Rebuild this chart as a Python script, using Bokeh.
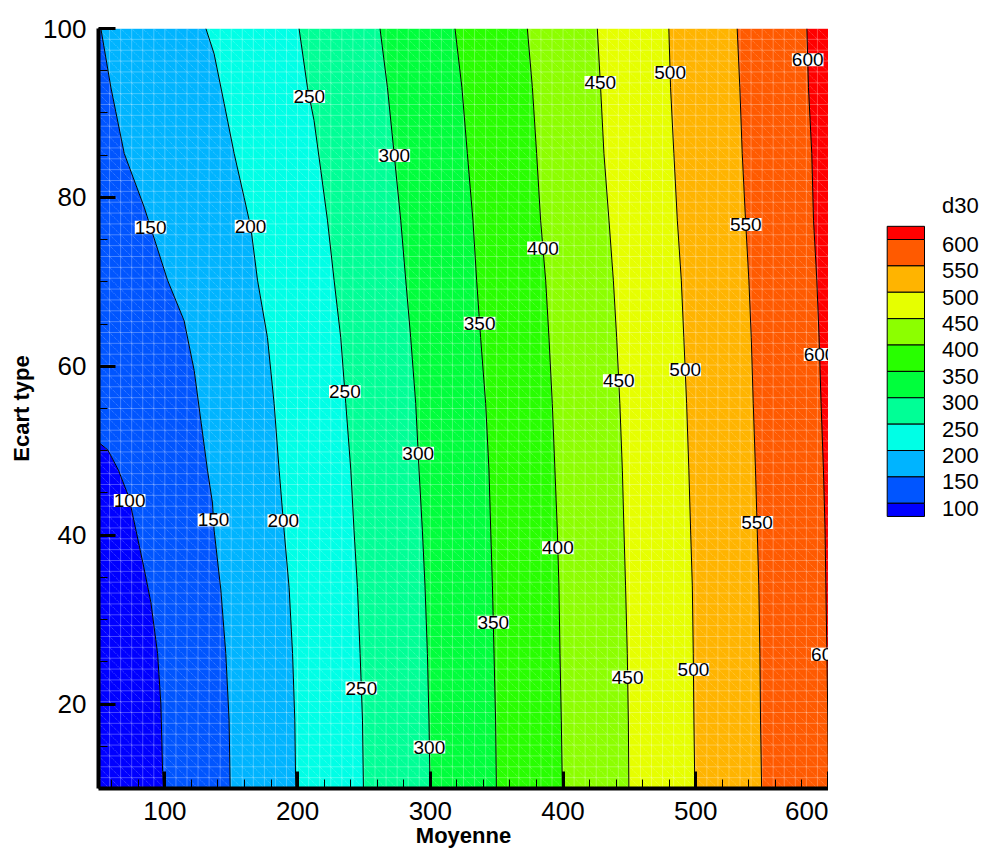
import numpy as np
from bokeh.plotting import figure
from bokeh.models import Range1d, SingleIntervalTicker
from bokeh.layouts import row
from bokeh.embed import file_html
from bokeh.resources import INLINE
from bokeh.core.properties import value

# ---------------- data ----------------
levels = [100, 150, 200, 250, 300, 350, 400, 450, 500, 550, 600]
band_colors = ["#0000FF", "#0055FF", "#00B4FF", "#00FFE6", "#00FF96", "#00FF3C",
               "#28FF00", "#8CFF00", "#E6FF00", "#FFB400", "#FF5A00", "#FF0000"]

# contour lines: Moyenne (x) at given Ecart type (y)
c100_y = [10, 12, 20, 26, 32, 36, 40.6, 44.5, 47.7, 50.1, 51]
c100_x = [99.0, 98.3, 97.0, 94.5, 89.5, 84.4, 78.2, 72.9, 65.0, 57.0, 50.0]
c150_y = [10, 18.1, 26, 33.5, 40.6, 43.8, 47.7, 53.6, 59.5, 65.4, 70.2, 78.85, 85.2, 93.05, 100]
c150_x = [149.2, 148.4, 145.9, 142.2, 137.1, 135.9, 132.1, 127.1, 122.1, 114.5, 102.0, 84.4, 69.4, 59.3, 51.8]
c200_y = [10, 18.1, 26, 33.8, 40.6, 47.7, 55.6, 63.4, 70.2, 76.4, 80, 85.2, 91.1, 97, 100]
c200_x = [198.6, 197.9, 196.2, 193.6, 189.8, 186.1, 182.3, 177.3, 169.8, 164.8, 159.7, 152.2, 144.7, 137.1, 130.9]
c250_y = [10, 18.1, 26, 33.8, 40.6, 47.7, 55.6, 63.4, 70.2, 77.3, 83.2, 89.1, 93.05, 100]
c250_x = [249.6, 248.9, 247.1, 245.1, 242.5, 240.1, 236.3, 232.5, 227.5, 222.5, 217.5, 212.4, 207.4, 201.1]
grid_y = [10, 18, 26, 34, 40.6, 47.7, 55.6, 63.4, 70.2, 77.3, 85.2, 93, 100]
c300_x = [299.8, 299.0, 297.8, 296.0, 294.0, 291.5, 289.0, 285.2, 281.5, 277.7, 272.7, 267.7, 262.1]
c350_x = [349.8, 349.2, 348.0, 346.8, 345.5, 344.2, 341.7, 337.9, 334.9, 332.1, 327.9, 323.8, 318.6]
c400_x = [399.5, 398.7, 397.7, 396.9, 395.7, 393.9, 391.9, 389.4, 386.9, 383.1, 380.1, 376.9, 373.1]
c450_x = [449.6, 449.2, 448.4, 447.1, 445.9, 444.7, 442.8, 440.4, 437.9, 434.6, 430.8, 428.3, 425.8]
c500_x = [499.3, 498.6, 498.1, 497.4, 496.1, 494.8, 493.1, 491.0, 489.1, 486.1, 483.5, 481.0, 479.7]
c550_x = [549.6, 548.8, 548.3, 547.5, 546.3, 545.0, 543.3, 541.8, 540.0, 537.5, 535.0, 533.2, 531.2]
c600_x = [600.0, 599.5, 598.8, 598.0, 597.4, 596.2, 594.4, 592.9, 591.2, 588.7, 587.4, 584.9, 583.7]

# contour labels: level and Ecart type where the label sits on its line
label_levels = [250, 300, 150, 200, 450, 500, 600, 400, 550, 350, 250, 300, 450,
                500, 600, 100, 150, 200, 400, 550, 350, 250, 450, 500, 600, 300]
label_y = [91.95, 84.97, 76.45, 76.57, 93.6, 94.8, 96.3, 74.0, 76.8, 65.1, 57.0, 49.7, 58.3,
           59.6, 61.4, 44.1, 41.8, 41.7, 38.5, 41.5, 29.7, 21.9, 23.2, 24.1, 25.9, 14.9]

x_min, x_max = 50, 600
y_min, y_max = 10, 100

contours = {
    100: (c100_x, c100_y), 150: (c150_x, c150_y), 200: (c200_x, c200_y),
    250: (c250_x, c250_y), 300: (c300_x, grid_y), 350: (c350_x, grid_y),
    400: (c400_x, grid_y), 450: (c450_x, grid_y), 500: (c500_x, grid_y),
    550: (c550_x, grid_y), 600: (c600_x, grid_y),
}

# ---------------- filled bands ----------------
band_xs, band_ys = [], []
cx, cy = contours[levels[0]]
band_xs.append([x_min] + list(cx))
band_ys.append([y_min] + list(cy))
for i in range(1, len(levels)):
    ux, uy = contours[levels[i]]
    lx, ly = contours[levels[i - 1]]
    xs = list(ux)
    ys = list(uy)
    if levels[i - 1] == levels[0]:
        xs += [x_min]
        ys += [y_max]
    xs += list(lx)[::-1]
    ys += list(ly)[::-1]
    band_xs.append(xs)
    band_ys.append(ys)
cx, cy = contours[levels[-1]]
band_xs.append(list(cx) + [x_max, x_max])
band_ys.append(list(cy) + [y_max, y_min])

FONT = "Liberation Sans"

p = figure(width=828, height=850, x_range=Range1d(x_min, x_max), y_range=Range1d(y_min, y_max),
           output_backend="svg", toolbar_location=None,
           min_border_left=98, min_border_top=28, min_border_right=0, min_border_bottom=62)
p.patches(band_xs, band_ys, fill_color=band_colors, line_color=None)

# light mesh texture
n_cx, n_cy = 66, 70
mx = np.linspace(x_min, x_max, n_cx + 1)
my = np.linspace(y_min, y_max, n_cy + 1)
p.segment(x0=mx, y0=[y_min] * len(mx), x1=mx, y1=[y_max] * len(mx),
          line_color="white", line_alpha=0.28, line_width=1)
p.segment(x0=[x_min] * len(my), y0=my, x1=[x_max] * len(my), y1=my,
          line_color="white", line_alpha=0.28, line_width=1)
dx = (x_max - x_min) / n_cx
ks = np.arange(-n_cy, n_cx + 1)
p.segment(x0=x_min + ks * dx, y0=[y_max] * len(ks), x1=x_min + (ks + n_cy) * dx, y1=[y_min] * len(ks),
          line_color="white", line_alpha=0.3, line_width=1, line_dash="1 1")

# contour lines
p.multi_line([list(contours[l][0]) for l in levels], [list(contours[l][1]) for l in levels],
             line_color="black", line_width=1)


def x_on_line(level, yv):
    xs, ys = contours[level]
    return float(np.interp(yv, ys, xs))


lab_x = [x_on_line(l, yv) for l, yv in zip(label_levels, label_y)]
p.text(x=lab_x, y=label_y, text=[str(l) for l in label_levels],
       text_align="center", text_baseline="middle", text_font=value(FONT),
       text_font_size="19px", text_color="black",
       background_fill_color="white", padding=0)

# axes
p.grid.visible = False
p.outline_line_color = None
p.xaxis.ticker = SingleIntervalTicker(interval=100, num_minor_ticks=5)
p.yaxis.ticker = SingleIntervalTicker(interval=20, num_minor_ticks=4)
p.xaxis.axis_label = "Moyenne"
p.yaxis.axis_label = "Ecart type"
for ax in (p.xaxis[0], p.yaxis[0]):
    ax.axis_line_width = 4
    ax.axis_line_color = "black"
    ax.major_tick_in = 17
    ax.major_tick_out = 0
    ax.major_tick_line_width = 3
    ax.minor_tick_in = 9
    ax.minor_tick_out = 0
    ax.minor_tick_line_width = 1
    ax.major_label_text_font = FONT
    ax.major_label_text_font_size = "26px"
    ax.major_label_text_color = "black"
    ax.axis_label_text_font = FONT
    ax.axis_label_text_font_size = "22px"
    ax.axis_label_text_font_style = "bold"
    ax.axis_label_text_color = "black"
p.xaxis.major_label_standoff = 13
p.xaxis.axis_label_standoff = 0
p.yaxis.major_label_standoff = 12
p.yaxis.axis_label_standoff = 6

# ---------------- legend (separate panel) ----------------
LW, LH = 155, 850
leg = figure(width=LW, height=LH, x_range=Range1d(0, LW), y_range=Range1d(LH, 0),
             output_backend="svg", toolbar_location=None, min_border=0,
             x_axis_location=None, y_axis_location=None)
leg.grid.visible = False
leg.outline_line_color = None

step = 29.5
first_b = 236.0
bounds = [first_b + step * k for k in range(len(levels))]  # 600 ... 100
tops = [first_b - step / 2] + bounds
bottoms = bounds + [bounds[-1] + step / 2]
leg_colors = band_colors[::-1]
leg.quad(left=58.7, right=96, top=tops, bottom=bottoms, fill_color=leg_colors,
         line_color="black", line_width=1)
leg.text(x=[113.5] * len(levels), y=[b + 5.5 for b in bounds], text=[str(l) for l in levels[::-1]],
         text_align="left", text_baseline="middle", text_font=value(FONT),
         text_font_size="22px", text_color="black")
leg.text(x=[113.5], y=[198], text=["d30"], text_align="left", text_baseline="middle",
         text_font=value(FONT), text_font_size="22px", text_color="black")

layout = row(p, leg)
open("out.html", "w").write(file_html(layout, INLINE))
